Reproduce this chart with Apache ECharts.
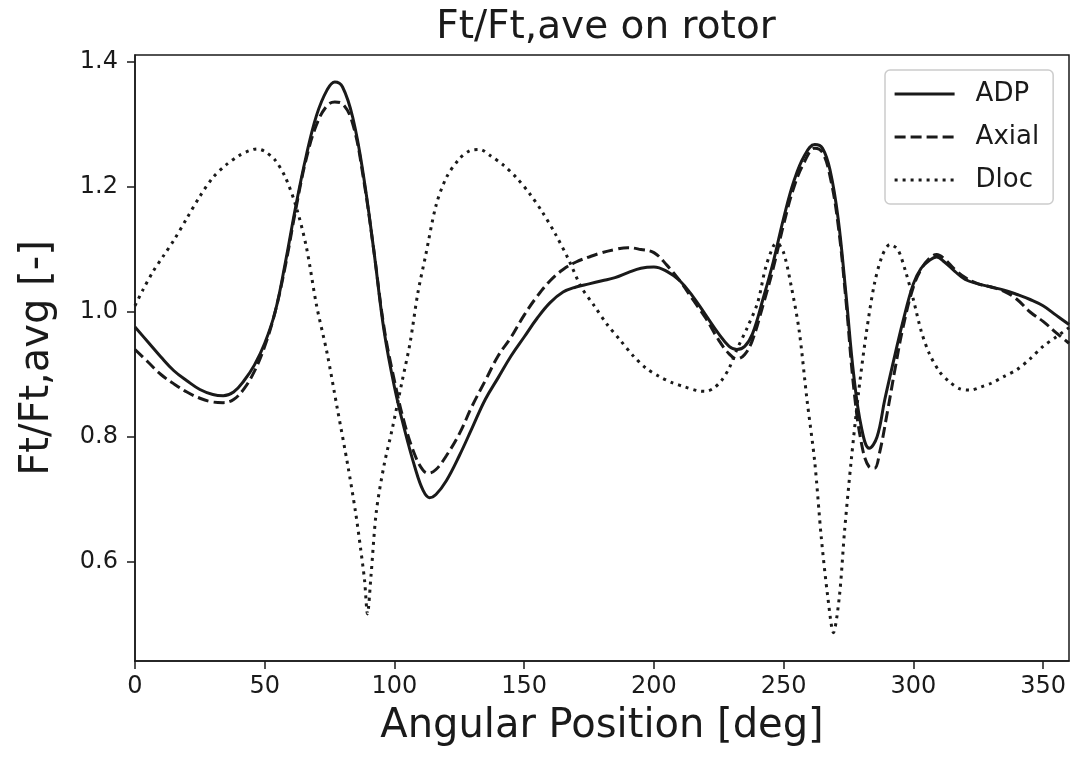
<!DOCTYPE html>
<html>
<head>
<meta charset="utf-8">
<script src="https://cdn.jsdelivr.net/npm/echarts@6/dist/echarts.min.js"></script>
<style>
  html, body { margin: 0; padding: 0; background: #fff; }
  #chart { width: 1071px; height: 761px; }
</style>
</head>
<body>
<div id="chart"></div>
<script>
// Tangential force normalised by its average, sampled around the rotor
const adpAngle = [0,5,10,15,20,25,30,34,38,42,46,50,54,58,62,66,70,74,77,80,84,88,92,96,100,104,108,111,113.5,116,120,125,130,135,140,145,150,155,160,165,170,175,180,185,190,195,200,205,210,215,220,225,229,232,235,238,242,246,250,254,258,262,265,268,271,274,277,280,283,286,289,292,296,300,303,306,309,312,316,320,325,330,335,340,345,350,355,360];
const adpValue = [0.976,0.952,0.928,0.906,0.89,0.876,0.868,0.866,0.872,0.89,0.915,0.95,1.0,1.08,1.17,1.25,1.315,1.355,1.368,1.36,1.31,1.22,1.1,0.97,0.88,0.81,0.75,0.715,0.703,0.708,0.73,0.77,0.815,0.86,0.895,0.93,0.96,0.99,1.015,1.032,1.04,1.045,1.05,1.055,1.063,1.07,1.072,1.065,1.05,1.025,0.995,0.965,0.945,0.94,0.945,0.965,1.02,1.08,1.15,1.21,1.25,1.268,1.262,1.225,1.15,1.03,0.9,0.815,0.782,0.8,0.86,0.915,0.985,1.045,1.07,1.082,1.088,1.08,1.065,1.052,1.045,1.04,1.035,1.028,1.02,1.01,0.995,0.98];

const axialAngle = [0,5,10,15,20,25,30,34,38,42,46,50,54,58,62,66,70,74,77,80,84,88,92,96,100,104,108,111,113,116,120,125,130,135,140,145,150,155,160,165,170,175,180,185,190,195,200,205,210,215,220,225,229,232,235,238,242,246,250,254,258,262,265,268,271,274,277,280,283,285,287,290,293,296,300,303,306,309,312,316,320,325,330,335,340,345,350,355,360];
const axialValue = [0.94,0.92,0.9,0.885,0.872,0.862,0.856,0.855,0.86,0.877,0.905,0.945,1.0,1.075,1.165,1.245,1.3,1.33,1.336,1.333,1.3,1.215,1.1,0.975,0.89,0.82,0.77,0.747,0.742,0.748,0.77,0.805,0.85,0.89,0.93,0.96,0.995,1.025,1.05,1.068,1.08,1.088,1.095,1.1,1.103,1.1,1.095,1.075,1.05,1.02,0.99,0.955,0.933,0.925,0.932,0.955,1.01,1.07,1.14,1.2,1.24,1.262,1.255,1.215,1.14,1.02,0.88,0.79,0.752,0.75,0.775,0.84,0.91,0.975,1.04,1.068,1.085,1.092,1.085,1.068,1.055,1.045,1.04,1.033,1.02,1.0,0.985,0.967,0.95];

const dlocAngle = [0,3,7,11,15,20,25,30,35,40,44,47,50,54,58,62,66,70,74,78,82,85,87,88.5,89.6,91,93,96,99,103,106,109,112,116,120,125,129,133,137,142,147,152,157,162,167,172,177,182,187,192,197,202,207,212,217,220,223,226,229,232,236,240,243,246,247.5,250,253,256,259,262,264.5,267,269.2,271.5,273.5,276,279,282,285,288,291,294,297,300,303,306,310,314,318,322,326,330,335,340,345,350,355,360];
const dlocValue = [1.01,1.035,1.065,1.09,1.115,1.15,1.185,1.215,1.235,1.25,1.258,1.261,1.257,1.243,1.215,1.17,1.105,1.01,0.935,0.845,0.755,0.68,0.62,0.57,0.517,0.58,0.68,0.755,0.81,0.89,0.95,1.03,1.09,1.17,1.215,1.245,1.258,1.26,1.25,1.235,1.215,1.19,1.16,1.125,1.085,1.04,1.01,0.98,0.955,0.93,0.91,0.897,0.887,0.88,0.874,0.873,0.878,0.89,0.91,0.94,0.975,1.015,1.07,1.105,1.11,1.095,1.04,0.97,0.86,0.76,0.64,0.545,0.487,0.545,0.65,0.76,0.875,0.97,1.045,1.09,1.108,1.1,1.065,1.02,0.97,0.935,0.905,0.888,0.877,0.875,0.88,0.886,0.897,0.908,0.925,0.945,0.96,0.975];

const xTicks = [0, 50, 100, 150, 200, 250, 300, 350];
const yTicks = [0.6, 0.8, 1.0, 1.2, 1.4];

const zip = (xs, ys) => xs.map((x, i) => [x, ys[i]]);

const ink = '#1a1a1a';
const font = "'DejaVu Sans', sans-serif";

const chart = echarts.init(document.getElementById('chart'));
chart.setOption({
  animation: false,
  backgroundColor: '#ffffff',
  title: {
    text: 'Ft/Ft,ave on rotor',
    left: 601, top: 3, textAlign: 'center',
    textStyle: { fontFamily: font, fontSize: 39, fontWeight: 'normal', color: ink }
  },
  grid: {
    left: 135, right: 2, top: 55, bottom: 100,
    show: true, borderColor: ink, borderWidth: 1.5
  },
  legend: {
    orient: 'vertical',
    left: 885, top: 70,
    padding: [11, 14, 11, 8],
    itemGap: 17,
    itemWidth: 60, itemHeight: 25,
    backgroundColor: '#fff',
    borderColor: '#cccccc', borderWidth: 1.5, borderRadius: 5,
    itemStyle: { opacity: 0 },
    lineStyle: { width: 3.2 },
    textStyle: { fontFamily: font, fontSize: 26, color: ink, padding: [0, 0, 0, 16] },
    data: ['ADP', 'Axial', 'Dloc']
  },
  xAxis: {
    type: 'value', min: 0, max: 360,
    axisLine: { show: true, lineStyle: { color: ink, width: 1.5 } },
    axisTick: { show: true, length: 8, lineStyle: { color: ink, width: 1.5 }, customValues: xTicks },
    axisLabel: { fontFamily: font, fontSize: 24, color: ink, margin: 14, customValues: xTicks },
    splitLine: { show: false },
    name: 'Angular Position [deg]', nameLocation: 'middle', nameGap: 46,
    nameTextStyle: { fontFamily: font, fontSize: 40, color: ink }
  },
  yAxis: {
    type: 'value', min: 0.4416, max: 1.4112,
    axisLine: { show: true, lineStyle: { color: ink, width: 1.5 } },
    axisTick: { show: true, length: 8, lineStyle: { color: ink, width: 1.5 }, customValues: yTicks },
    axisLabel: { fontFamily: font, fontSize: 24, color: ink, margin: 17, customValues: yTicks,
      formatter: v => v.toFixed(1) },
    splitLine: { show: false },
    name: 'Ft/Ft,avg [-]', nameLocation: 'middle', nameGap: 77, nameRotate: 90,
    nameTextStyle: { fontFamily: font, fontSize: 40, color: ink }
  },
  series: [
    { name: 'ADP', type: 'line', data: zip(adpAngle, adpValue), smooth: 0.4, symbol: 'none',
      lineStyle: { color: ink, width: 3 }, itemStyle: { color: ink } },
    { name: 'Axial', type: 'line', data: zip(axialAngle, axialValue), smooth: 0.4, symbol: 'none',
      lineStyle: { color: ink, width: 3, type: [11, 5] }, itemStyle: { color: ink } },
    { name: 'Dloc', type: 'line', data: zip(dlocAngle, dlocValue), smooth: 0.3, symbol: 'none',
      lineStyle: { color: ink, width: 3, type: [3, 5] }, itemStyle: { color: ink } }
  ]
});
</script>
</body>
</html>
